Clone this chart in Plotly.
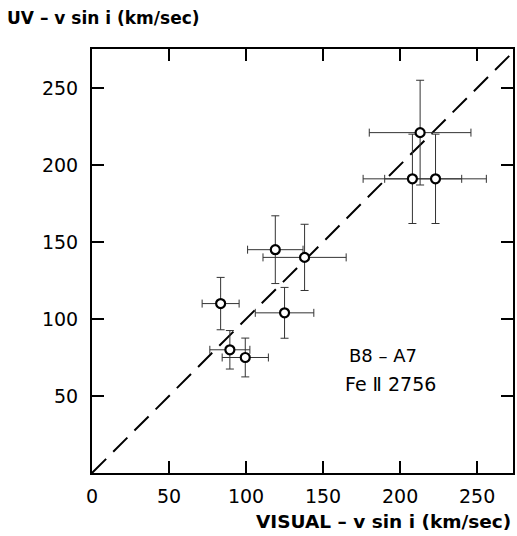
import plotly.graph_objects as go

# Projected rotational velocities: visual vs. UV (Fe II 2756), B8-A7 stars
visual_vsini = [213, 208, 223, 119, 138, 125, 83.5, 89.5, 99.5]
visual_err = [33, 32, 33, 18, 27, 19, 12, 13, 15]
uv_vsini = [221, 191, 191, 145, 140, 104, 110, 80, 75]
uv_err = [34, 29, 29, 22, 21.5, 16.5, 17, 12.5, 12.6]

tick_vals = [0, 50, 100, 150, 200, 250]
y_tick_vals = [50, 100, 150, 200, 250]
x_max = 273.3
y_max = 275.3

font_family = "DejaVu Sans, Liberation Sans, sans-serif"

fig = go.Figure()

# one-to-one reference line
fig.add_trace(go.Scatter(
    x=[0, x_max], y=[0, x_max],
    mode="lines",
    line=dict(color="black", width=2, dash="20px,10px"),
    hoverinfo="skip", showlegend=False,
))

fig.add_trace(go.Scatter(
    x=visual_vsini, y=uv_vsini,
    mode="markers",
    marker=dict(symbol="circle", size=9, color="white",
                line=dict(color="black", width=2.2)),
    error_x=dict(type="data", array=visual_err, visible=True,
                 color="#333333", thickness=1, width=4),
    error_y=dict(type="data", array=uv_err, visible=True,
                 color="#333333", thickness=1, width=4),
    showlegend=False,
))

axis_common = dict(
    showgrid=False, zeroline=False,
    showline=True, linecolor="black", linewidth=2, mirror="ticks",
    ticks="inside", ticklen=12, tickwidth=2, tickcolor="black",
    tickfont=dict(family=font_family, size=19, color="black"),
)

fig.update_xaxes(range=[0, x_max], tickvals=tick_vals,
                 ticktext=[str(v) for v in tick_vals],
                 ticklabelstandoff=5, **axis_common)
fig.update_yaxes(range=[0, y_max], tickvals=y_tick_vals,
                 ticktext=[str(v) for v in y_tick_vals],
                 ticklabelstandoff=8, **axis_common)

fig.add_annotation(
    text="UV – v sin i (km/sec)", xref="paper", yref="paper",
    x=-0.207, y=1.045, xanchor="left", yanchor="bottom",
    showarrow=False,
    font=dict(family=font_family, size=17, color="black", weight=600),
)
fig.add_annotation(
    text="VISUAL – v sin i (km/sec)", xref="paper", yref="paper",
    x=1.0, y=-0.085, xanchor="right", yanchor="top",
    showarrow=False,
    font=dict(family=font_family, size=18.5, color="black", weight=600),
)
label_font = dict(family=font_family, size=18, color="black")
fig.add_annotation(
    text="B8 – A7", xref="x", yref="y", x=189, y=76,
    xanchor="center", yanchor="middle", showarrow=False, font=label_font,
)
fig.add_annotation(
    text="Fe Ⅱ 2756", xref="x", yref="y", x=194, y=58,
    xanchor="center", yanchor="middle", showarrow=False,
    font=dict(family=font_family, size=19, color="black"),
)

fig.update_layout(
    width=517, height=536,
    margin=dict(l=92, r=2, t=49, b=63),
    paper_bgcolor="white", plot_bgcolor="white",
)

fig.write_html("out.html")
